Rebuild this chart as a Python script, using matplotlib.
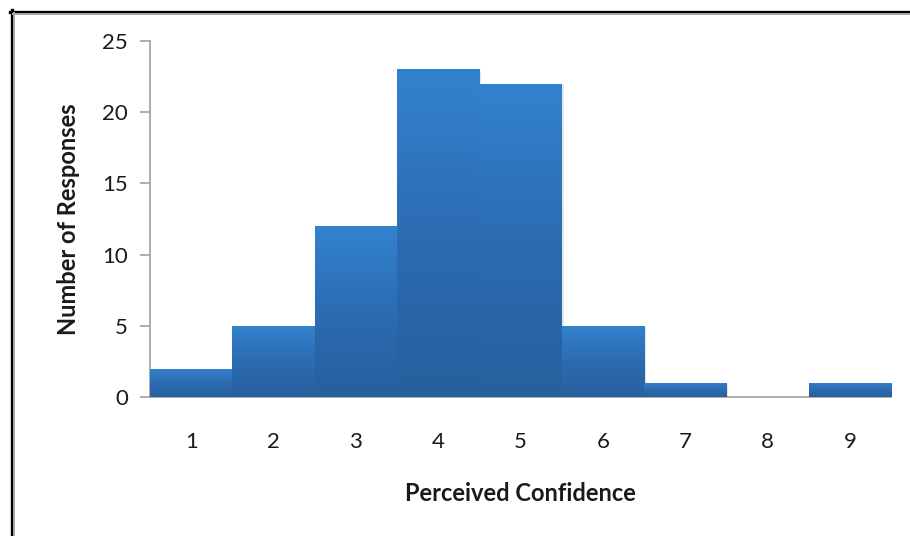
import numpy as np
import matplotlib
matplotlib.use("Agg")
import matplotlib.pyplot as plt
from matplotlib.patches import Rectangle
from matplotlib.colors import LinearSegmentedColormap
from matplotlib.lines import Line2D

categories = [1, 2, 3, 4, 5, 6, 7, 8, 9]
responses = [2, 5, 12, 23, 22, 5, 1, 0, 1]
y_ticks = [0, 5, 10, 15, 20, 25]
x_label = "Perceived Confidence"
y_label = "Number of Responses"

plt.rcParams['font.family'] = ['Lato', 'DejaVu Sans']

W, H = 910, 536
fig = plt.figure(figsize=(W / 100, H / 100), dpi=100)
ax = fig.add_axes([150 / W, 1 - 397 / H, (891 - 150) / W, (397 - 41) / H])

cmap = LinearSegmentedColormap.from_list("bar", ["#26609e", "#2c6cb2", "#3382cf"])
grad = np.linspace(0, 1, 256).reshape(-1, 1)

for c, v in zip(categories, responses):
    if v <= 0:
        continue
    # faint shadow
    sh = Rectangle((c - 0.5 + 0.025, 0), 1.0, v - 0.1, facecolor="#000000", alpha=0.10,
                   edgecolor="none", zorder=1)
    ax.add_patch(sh)
    rect = Rectangle((c - 0.5, 0), 1.0, v, facecolor="none", edgecolor="none", zorder=2)
    ax.add_patch(rect)
    im = ax.imshow(grad, extent=(c - 0.5, c + 0.5, 0, v), origin="lower", cmap=cmap,
                   aspect="auto", zorder=2, interpolation="bilinear")
    im.set_clip_path(rect)

ax.set_xlim(0.5, 9.5)
ax.set_ylim(0, 25)
ax.set_xticks(categories)
ax.set_xticklabels([str(c) for c in categories])
ax.set_yticks(y_ticks)
ax.set_yticklabels([str(t) for t in y_ticks])

for s in ["top", "right"]:
    ax.spines[s].set_visible(False)
for s in ["left", "bottom"]:
    ax.spines[s].set_color("#a0a0a0")
    ax.spines[s].set_linewidth(1.2)
    ax.spines[s].set_zorder(0.5)
ax.tick_params(axis="y", length=7, width=1.2, color="#a0a0a0", labelsize=16, pad=9,
               labelcolor="#1a1a1a")
ax.tick_params(axis="x", length=0, labelsize=16, pad=25, labelcolor="#1a1a1a")

ax.set_xlabel(x_label, fontsize=17, fontweight="bold", labelpad=22, color="#1a1a1a")
ax.set_ylabel(y_label, fontsize=17, fontweight="bold", labelpad=16, color="#1a1a1a")

# figure border with shadow (left and top)
fig.add_artist(Line2D([11.5 / W, 11.5 / W], [0, 1 - 10 / H], transform=fig.transFigure,
                      color="black", lw=2.4))
fig.add_artist(Line2D([10 / W, 1], [1 - 11.5 / H, 1 - 11.5 / H], transform=fig.transFigure,
                      color="black", lw=2.4))
fig.add_artist(Line2D([14 / W, 14 / W], [0, 1 - 13 / H], transform=fig.transFigure,
                      color="#a8a8a8", lw=1.4))
fig.add_artist(Line2D([13 / W, 1], [1 - 14 / H, 1 - 14 / H], transform=fig.transFigure,
                      color="#a8a8a8", lw=1.4))

fig.savefig("out.png", dpi=100)
